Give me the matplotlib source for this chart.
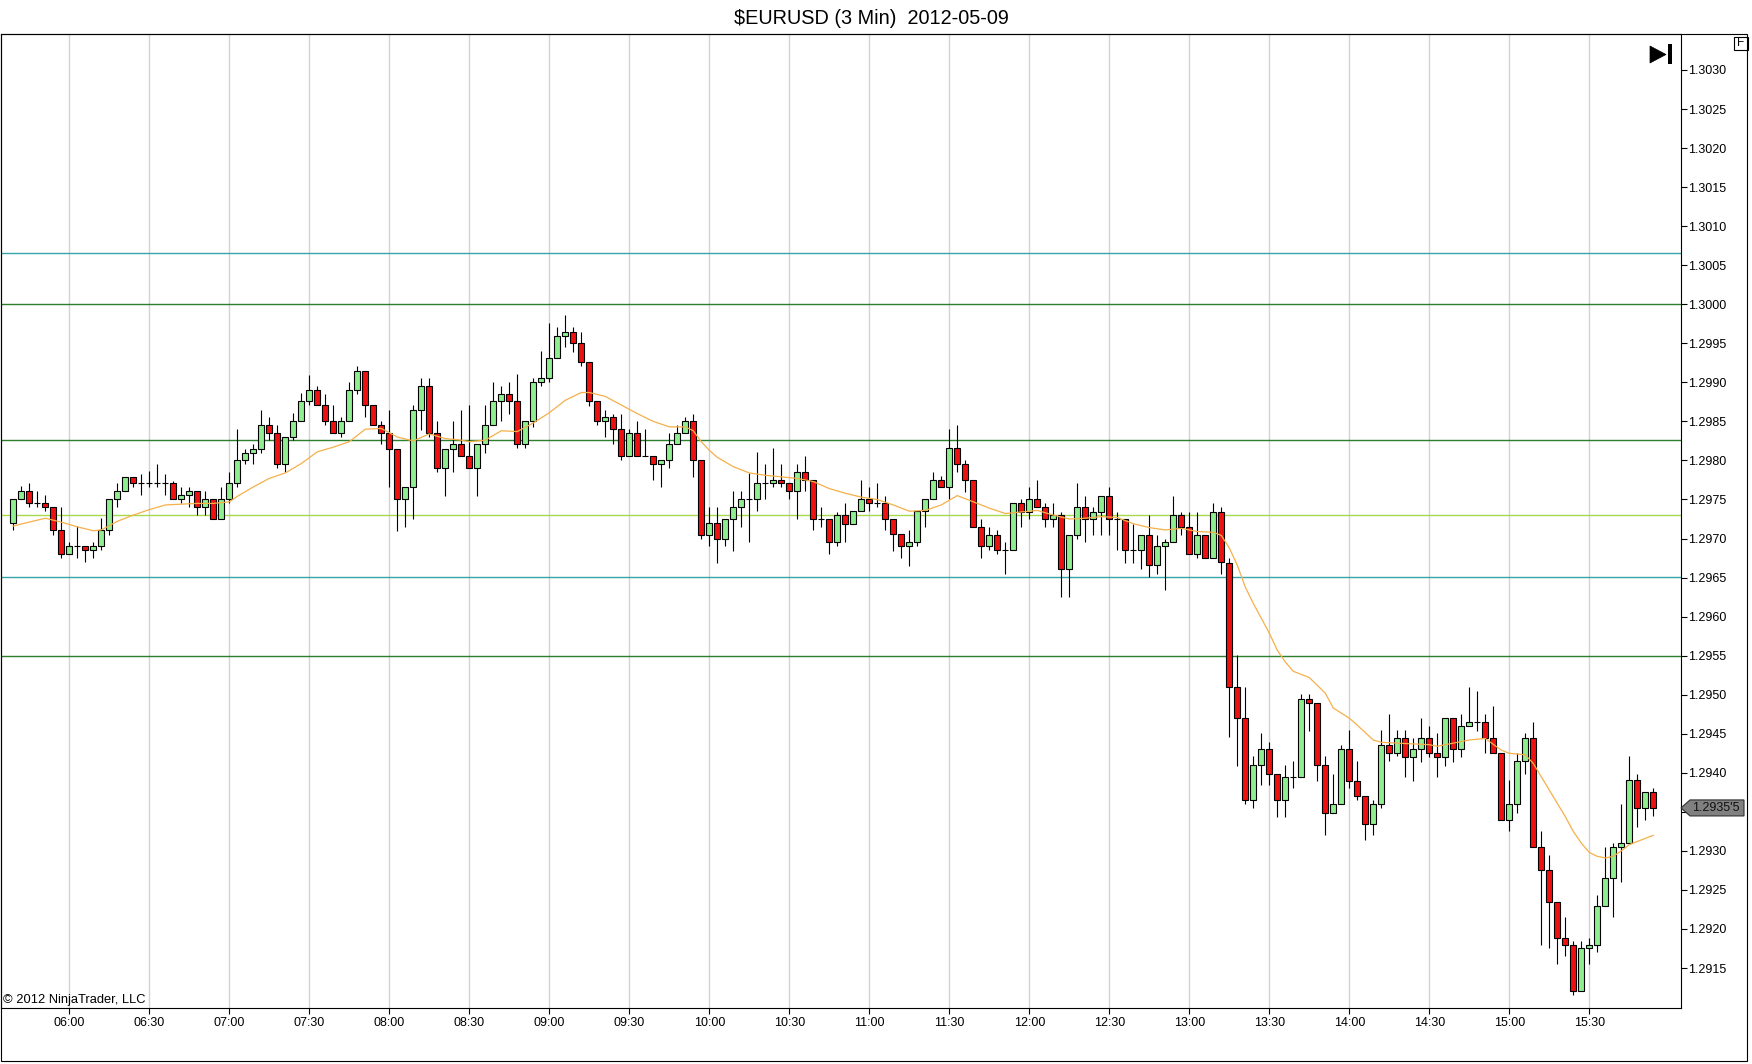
import numpy as np
import matplotlib
matplotlib.use("Agg")
import matplotlib.pyplot as plt
from matplotlib.patches import Polygon, Rectangle
from matplotlib import transforms

plt.rcParams['font.family'] = ['Liberation Sans', 'DejaVu Sans']

# chart text
title = "\\$EURUSD (3 Min)  2012-05-09"
copyright_text = "\u00a9 2012 NinjaTrader, LLC"
last_price_label = "1.2935'5"

# bars: first bar closes 05:39, one bar every 3 minutes
first_bar = 5 * 60 + 39
bar_minutes = 3

opens = [
    1.29720, 1.29750, 1.29761, 1.29745, 1.29745, 1.29740, 1.29711, 1.29680, 1.29690, 1.29690,
    1.29685, 1.29690, 1.29711, 1.29750, 1.29761, 1.29779, 1.29771, 1.29771, 1.29771, 1.29771,
    1.29771, 1.29750, 1.29756, 1.29761, 1.29740, 1.29750, 1.29725, 1.29750, 1.29771, 1.29801,
    1.29810, 1.29815, 1.29845, 1.29835, 1.29795, 1.29830, 1.29850, 1.29876, 1.29890, 1.29871,
    1.29850, 1.29835, 1.29850, 1.29890, 1.29915, 1.29871, 1.29845, 1.29835, 1.29815, 1.29750,
    1.29766, 1.29865, 1.29895, 1.29835, 1.29790, 1.29815, 1.29821, 1.29806, 1.29790, 1.29821,
    1.29845, 1.29876, 1.29885, 1.29876, 1.29821, 1.29851, 1.29901, 1.29906, 1.29931, 1.29960,
    1.29965, 1.29950, 1.29926, 1.29876, 1.29850, 1.29855, 1.29840, 1.29806, 1.29835, 1.29806,
    1.29806, 1.29796, 1.29801, 1.29821, 1.29835, 1.29850, 1.29800, 1.29705, 1.29720, 1.29700,
    1.29725, 1.29740, 1.29750, 1.29750, 1.29771, 1.29771, 1.29775, 1.29771, 1.29761, 1.29785,
    1.29775, 1.29725, 1.29725, 1.29695, 1.29730, 1.29719, 1.29735, 1.29750, 1.29745, 1.29745,
    1.29725, 1.29706, 1.29690, 1.29695, 1.29735, 1.29750, 1.29775, 1.29766, 1.29816, 1.29796,
    1.29775, 1.29715, 1.29690, 1.29705, 1.29685, 1.29685, 1.29745, 1.29734, 1.29750, 1.29740,
    1.29725, 1.29730, 1.29661, 1.29705, 1.29740, 1.29725, 1.29734, 1.29755, 1.29725, 1.29725,
    1.29685, 1.29685, 1.29705, 1.29666, 1.29690, 1.29695, 1.29730, 1.29715, 1.29680, 1.29705,
    1.29675, 1.29734, 1.29669, 1.29510, 1.29470, 1.29365, 1.29410, 1.29430, 1.29399, 1.29365,
    1.29395, 1.29395, 1.29495, 1.29490, 1.29410, 1.29349, 1.29360, 1.29430, 1.29390, 1.29370,
    1.29335, 1.29360, 1.29435, 1.29425, 1.29445, 1.29420, 1.29430, 1.29445, 1.29425, 1.29420,
    1.29470, 1.29430, 1.29460, 1.29465, 1.29465, 1.29445, 1.29425, 1.29340, 1.29360, 1.29415,
    1.29445, 1.29305, 1.29275, 1.29234, 1.29189, 1.29180, 1.29120, 1.29175, 1.29180, 1.29230,
    1.29265, 1.29305, 1.29310, 1.29391, 1.29355, 1.29375,
]

highs = [
    1.29750, 1.29767, 1.29771, 1.29761, 1.29756, 1.29740, 1.29740, 1.29696, 1.29716, 1.29690,
    1.29696, 1.29726, 1.29750, 1.29771, 1.29779, 1.29779, 1.29782, 1.29786, 1.29796, 1.29782,
    1.29774, 1.29766, 1.29766, 1.29761, 1.29761, 1.29750, 1.29766, 1.29785, 1.29840, 1.29815,
    1.29821, 1.29865, 1.29855, 1.29845, 1.29830, 1.29861, 1.29886, 1.29910, 1.29895, 1.29885,
    1.29871, 1.29855, 1.29900, 1.29921, 1.29915, 1.29871, 1.29850, 1.29865, 1.29815, 1.29766,
    1.29871, 1.29905, 1.29905, 1.29850, 1.29815, 1.29850, 1.29865, 1.29871, 1.29821, 1.29871,
    1.29901, 1.29895, 1.29901, 1.29911, 1.29851, 1.29905, 1.29940, 1.29976, 1.29971, 1.29986,
    1.29971, 1.29965, 1.29926, 1.29876, 1.29865, 1.29860, 1.29860, 1.29840, 1.29850, 1.29840,
    1.29806, 1.29801, 1.29835, 1.29845, 1.29855, 1.29860, 1.29800, 1.29741, 1.29741, 1.29725,
    1.29761, 1.29761, 1.29784, 1.29811, 1.29796, 1.29816, 1.29795, 1.29771, 1.29795, 1.29806,
    1.29775, 1.29740, 1.29725, 1.29734, 1.29745, 1.29735, 1.29775, 1.29766, 1.29771, 1.29755,
    1.29725, 1.29706, 1.29711, 1.29735, 1.29750, 1.29785, 1.29780, 1.29840, 1.29845, 1.29801,
    1.29775, 1.29725, 1.29715, 1.29711, 1.29695, 1.29745, 1.29750, 1.29766, 1.29775, 1.29745,
    1.29745, 1.29734, 1.29705, 1.29771, 1.29755, 1.29740, 1.29755, 1.29766, 1.29734, 1.29725,
    1.29719, 1.29705, 1.29730, 1.29705, 1.29700, 1.29755, 1.29734, 1.29734, 1.29734, 1.29705,
    1.29745, 1.29740, 1.29675, 1.29551, 1.29510, 1.29421, 1.29451, 1.29440, 1.29399, 1.29410,
    1.29415, 1.29501, 1.29501, 1.29490, 1.29421, 1.29399, 1.29435, 1.29455, 1.29415, 1.29370,
    1.29365, 1.29455, 1.29475, 1.29455, 1.29455, 1.29445, 1.29470, 1.29460, 1.29451, 1.29470,
    1.29470, 1.29475, 1.29510, 1.29505, 1.29475, 1.29486, 1.29425, 1.29391, 1.29425, 1.29451,
    1.29465, 1.29325, 1.29295, 1.29234, 1.29215, 1.29185, 1.29185, 1.29189, 1.29244, 1.29305,
    1.29310, 1.29360, 1.29421, 1.29399, 1.29375, 1.29380,
]

lows = [
    1.29711, 1.29750, 1.29740, 1.29740, 1.29735, 1.29705, 1.29675, 1.29680, 1.29675, 1.29670,
    1.29675, 1.29685, 1.29705, 1.29740, 1.29761, 1.29766, 1.29756, 1.29766, 1.29766, 1.29756,
    1.29750, 1.29745, 1.29740, 1.29730, 1.29730, 1.29725, 1.29725, 1.29745, 1.29766, 1.29795,
    1.29795, 1.29810, 1.29826, 1.29790, 1.29785, 1.29826, 1.29850, 1.29871, 1.29871, 1.29845,
    1.29835, 1.29830, 1.29850, 1.29885, 1.29855, 1.29845, 1.29821, 1.29766, 1.29710, 1.29715,
    1.29725, 1.29839, 1.29830, 1.29785, 1.29755, 1.29785, 1.29806, 1.29790, 1.29755, 1.29810,
    1.29845, 1.29850, 1.29860, 1.29816, 1.29816, 1.29843, 1.29895, 1.29901, 1.29931, 1.29945,
    1.29939, 1.29921, 1.29870, 1.29845, 1.29830, 1.29821, 1.29800, 1.29806, 1.29806, 1.29806,
    1.29775, 1.29766, 1.29790, 1.29821, 1.29835, 1.29779, 1.29700, 1.29690, 1.29669, 1.29690,
    1.29684, 1.29715, 1.29695, 1.29735, 1.29750, 1.29766, 1.29766, 1.29750, 1.29725, 1.29761,
    1.29711, 1.29715, 1.29680, 1.29690, 1.29695, 1.29719, 1.29735, 1.29735, 1.29740, 1.29711,
    1.29684, 1.29675, 1.29665, 1.29690, 1.29715, 1.29750, 1.29766, 1.29750, 1.29785, 1.29760,
    1.29715, 1.29675, 1.29685, 1.29680, 1.29655, 1.29685, 1.29715, 1.29725, 1.29740, 1.29715,
    1.29715, 1.29625, 1.29625, 1.29700, 1.29695, 1.29705, 1.29705, 1.29705, 1.29685, 1.29669,
    1.29669, 1.29661, 1.29651, 1.29655, 1.29634, 1.29695, 1.29705, 1.29680, 1.29675, 1.29675,
    1.29675, 1.29655, 1.29446, 1.29409, 1.29360, 1.29355, 1.29385, 1.29384, 1.29344, 1.29344,
    1.29380, 1.29395, 1.29454, 1.29390, 1.29320, 1.29349, 1.29360, 1.29380, 1.29365, 1.29314,
    1.29320, 1.29355, 1.29415, 1.29421, 1.29395, 1.29390, 1.29414, 1.29420, 1.29395, 1.29409,
    1.29414, 1.29420, 1.29460, 1.29454, 1.29425, 1.29425, 1.29340, 1.29325, 1.29349, 1.29399,
    1.29305, 1.29180, 1.29175, 1.29155, 1.29165, 1.29116, 1.29120, 1.29155, 1.29170, 1.29230,
    1.29215, 1.29260, 1.29310, 1.29330, 1.29340, 1.29345,
]

closes = [
    1.29750, 1.29761, 1.29745, 1.29745, 1.29740, 1.29711, 1.29680, 1.29690, 1.29690, 1.29685,
    1.29690, 1.29711, 1.29750, 1.29761, 1.29779, 1.29771, 1.29771, 1.29771, 1.29771, 1.29771,
    1.29750, 1.29756, 1.29761, 1.29740, 1.29750, 1.29725, 1.29750, 1.29771, 1.29801, 1.29810,
    1.29815, 1.29845, 1.29835, 1.29795, 1.29830, 1.29850, 1.29876, 1.29890, 1.29871, 1.29850,
    1.29835, 1.29850, 1.29890, 1.29915, 1.29871, 1.29845, 1.29835, 1.29815, 1.29750, 1.29766,
    1.29865, 1.29895, 1.29835, 1.29790, 1.29815, 1.29821, 1.29806, 1.29790, 1.29821, 1.29845,
    1.29876, 1.29885, 1.29876, 1.29821, 1.29851, 1.29901, 1.29906, 1.29931, 1.29960, 1.29965,
    1.29950, 1.29926, 1.29876, 1.29850, 1.29855, 1.29840, 1.29806, 1.29835, 1.29806, 1.29806,
    1.29796, 1.29801, 1.29821, 1.29835, 1.29850, 1.29800, 1.29705, 1.29720, 1.29700, 1.29725,
    1.29740, 1.29750, 1.29750, 1.29771, 1.29771, 1.29775, 1.29771, 1.29761, 1.29785, 1.29775,
    1.29725, 1.29725, 1.29695, 1.29730, 1.29719, 1.29735, 1.29750, 1.29745, 1.29745, 1.29725,
    1.29706, 1.29690, 1.29695, 1.29735, 1.29750, 1.29775, 1.29766, 1.29816, 1.29796, 1.29775,
    1.29715, 1.29690, 1.29705, 1.29685, 1.29685, 1.29745, 1.29734, 1.29750, 1.29740, 1.29725,
    1.29730, 1.29661, 1.29705, 1.29740, 1.29725, 1.29734, 1.29755, 1.29725, 1.29725, 1.29685,
    1.29685, 1.29705, 1.29666, 1.29690, 1.29695, 1.29730, 1.29715, 1.29680, 1.29705, 1.29675,
    1.29734, 1.29670, 1.29510, 1.29470, 1.29365, 1.29410, 1.29430, 1.29399, 1.29365, 1.29395,
    1.29395, 1.29495, 1.29490, 1.29410, 1.29349, 1.29360, 1.29430, 1.29390, 1.29370, 1.29335,
    1.29360, 1.29435, 1.29425, 1.29445, 1.29420, 1.29430, 1.29445, 1.29425, 1.29420, 1.29470,
    1.29430, 1.29460, 1.29465, 1.29465, 1.29445, 1.29425, 1.29340, 1.29360, 1.29415, 1.29445,
    1.29305, 1.29275, 1.29234, 1.29189, 1.29180, 1.29120, 1.29175, 1.29180, 1.29230, 1.29265,
    1.29305, 1.29310, 1.29391, 1.29355, 1.29375, 1.29355,
]

# moving average at these bar numbers
ma_bars = [
    0, 2, 4, 6, 8, 10, 11, 13, 15, 17, 19, 21, 23, 25, 27, 28, 30, 32, 34, 36,
    38, 40, 42, 44, 46, 48, 50, 52, 54, 56, 57, 59, 61, 63, 65, 67, 69, 71, 72, 74,
    76, 78, 80, 82, 84, 85, 86, 87, 88, 90, 92, 94, 96, 98, 100, 102, 104, 106, 108, 110,
    111, 112, 114, 116, 118, 120, 122, 124, 126, 128, 130, 132, 134, 136, 138, 140, 142, 144, 146, 148,
    150, 151, 152, 153, 154, 155, 156, 157, 158, 159, 160, 162, 164, 165, 167, 168, 170, 171, 173, 175,
    177, 178, 180, 182, 184, 186, 187, 189, 190, 191, 192, 193, 194, 195, 196, 197, 198, 199, 200, 201,
    202, 203, 204, 205,
]
ma_values = [
    1.29716, 1.29721, 1.29726, 1.29721, 1.29715, 1.29710, 1.29711, 1.29722, 1.29730, 1.29737,
    1.29743, 1.29744, 1.29745, 1.29745, 1.29747, 1.29754, 1.29766, 1.29777, 1.29784, 1.29796,
    1.29811, 1.29817, 1.29824, 1.29840, 1.29841, 1.29830, 1.29825, 1.29834, 1.29828, 1.29826,
    1.29824, 1.29826, 1.29838, 1.29837, 1.29848, 1.29861, 1.29877, 1.29887, 1.29887, 1.29882,
    1.29871, 1.29860, 1.29850, 1.29843, 1.29843, 1.29838, 1.29824, 1.29813, 1.29804, 1.29792,
    1.29784, 1.29781, 1.29779, 1.29777, 1.29773, 1.29764, 1.29758, 1.29753, 1.29750, 1.29743,
    1.29739, 1.29735, 1.29736, 1.29743, 1.29755, 1.29747, 1.29739, 1.29732, 1.29734, 1.29736,
    1.29730, 1.29725, 1.29726, 1.29728, 1.29727, 1.29719, 1.29714, 1.29711, 1.29713, 1.29709,
    1.29708, 1.29704, 1.29688, 1.29666, 1.29638, 1.29617, 1.29598, 1.29579, 1.29557, 1.29542,
    1.29530, 1.29522, 1.29502, 1.29483, 1.29470, 1.29461, 1.29442, 1.29439, 1.29438, 1.29437,
    1.29436, 1.29434, 1.29438, 1.29442, 1.29444, 1.29429, 1.29425, 1.29423, 1.29412, 1.29395,
    1.29378, 1.29361, 1.29344, 1.29325, 1.29310, 1.29298, 1.29293, 1.29291, 1.29293, 1.29300,
    1.29308, 1.29312, 1.29316, 1.29320,
]

# horizontal price levels
levels = [1.30066, 1.30000, 1.29826, 1.29730, 1.29651, 1.29549]
level_colors = ['#36a5a8', '#2c7f2c', '#2c7f2c', '#a8d84c', '#36a5a8', '#2c7f2c']

# axis ticks
time_ticks = [6 * 60 + 30 * k for k in range(20)]
time_labels = ["06:00", "06:30", "07:00", "07:30", "08:00", "08:30", "09:00", "09:30",
               "10:00", "10:30", "11:00", "11:30", "12:00", "12:30", "13:00", "13:30",
               "14:00", "14:30", "15:00", "15:30"]
price_ticks = [1.2915, 1.2920, 1.2925, 1.2930, 1.2935, 1.2940, 1.2945, 1.2950,
               1.2955, 1.2960, 1.2965, 1.2970, 1.2975, 1.2980, 1.2985, 1.2990,
               1.2995, 1.3000, 1.3005, 1.3010, 1.3015, 1.3020, 1.3025, 1.3030]

W, H = 1752, 1064
UP = '#90ee90'
DOWN = '#ee1111'


def pix(x, y):
    # pixel position measured from the top-left corner
    return (x, H - y)


def draw_candles(ax, x, o, h, l, c):
    o, h, l, c = map(np.asarray, (o, h, l, c))
    ax.vlines(x, l, h, color='black', linewidth=0.8, zorder=3)
    colors = np.where(c >= o, UP, DOWN)
    ax.bar(x, np.abs(c - o), width=2.2, bottom=np.minimum(o, c), color=colors,
           edgecolor='black', linewidth=0.8, zorder=4)


def main():
    fig = plt.figure(figsize=(W / 100, H / 100), dpi=100)
    ax = fig.add_axes([1 / W, 1 - 1008 / H, 1680 / W, 974 / H])

    x = first_bar + bar_minutes * np.arange(len(closes))

    for v, col in zip(levels, level_colors):
        ax.axhline(v, color=col, linewidth=1.0, zorder=2)

    draw_candles(ax, x, opens, highs, lows, closes)
    ax.plot(first_bar + bar_minutes * np.array(ma_bars), ma_values,
            color='#f5b04a', linewidth=0.9, zorder=5)

    ax.set_xlim(334.4, 964.4)
    ax.set_ylim(1.290988, 1.303461)

    ax.set_xticks(time_ticks)
    ax.set_xticklabels(time_labels)
    ax.grid(axis='x', color='#d2d2d2', linewidth=1.0)
    ax.set_axisbelow(True)

    # the last-price marker sits on top of the tick label at the last close
    ax.yaxis.tick_right()
    ax.set_yticks(price_ticks)
    ax.set_yticklabels(["" if abs(p - round(closes[-1], 4)) < 1e-9 else f"{p:.4f}"
                        for p in price_ticks])
    ax.tick_params(axis='y', length=4.3, width=0.8, pad=0.8, labelsize=9, colors='black')
    ax.tick_params(axis='x', length=4.3, width=0.8, pad=2.5, labelsize=9, colors='black')
    for sp in ax.spines.values():
        sp.set_color('black')
        sp.set_linewidth(0.8)

    # outer frame
    fig.add_artist(Rectangle((1 / W, 1 - 1061 / H), 1746 / W, 1027 / H,
                             transform=fig.transFigure, fill=False,
                             edgecolor='black', linewidth=0.8))

    fig.text(871 / W, 1 - 18 / H, title, ha='center', va='center', fontsize=14.3)
    fig.text(3 / W, 1 - 1003 / H, copyright_text, ha='left', va='baseline', fontsize=9.3)

    ident = transforms.IdentityTransform()

    # last price marker on the price axis
    px_, py_ = ax.transData.transform((ax.get_xlim()[1], closes[-1]))
    marker = [(px_, py_), (px_ + 9, py_ + 8), (px_ + 63, py_ + 8),
              (px_ + 63, py_ - 8), (px_ + 9, py_ - 8)]
    fig.add_artist(Polygon(marker, closed=True, transform=ident,
                           facecolor='#808080', edgecolor='#303030', linewidth=0.8))
    fig.text(px_ + 35, py_, last_price_label, transform=ident,
             ha='center', va='center', fontsize=9, color='#111111')

    # scroll-to-end button and F box
    fig.add_artist(Polygon([pix(1650, 46), pix(1650, 63), pix(1666, 54.5)], closed=True,
                           transform=ident, facecolor='black', edgecolor='black', linewidth=0.5))
    fig.add_artist(Rectangle(pix(1668, 64), 3.5, 20, transform=ident,
                             facecolor='black', edgecolor='none'))
    fig.add_artist(Rectangle(pix(1734, 49.5), 13.5, 13, transform=ident,
                             fill=False, edgecolor='black', linewidth=0.8))
    fig.text(1741, H - 43.5, "F", transform=ident, ha='center', va='center', fontsize=8.5)

    fig.savefig("out.png", dpi=100)


if __name__ == "__main__":
    main()
